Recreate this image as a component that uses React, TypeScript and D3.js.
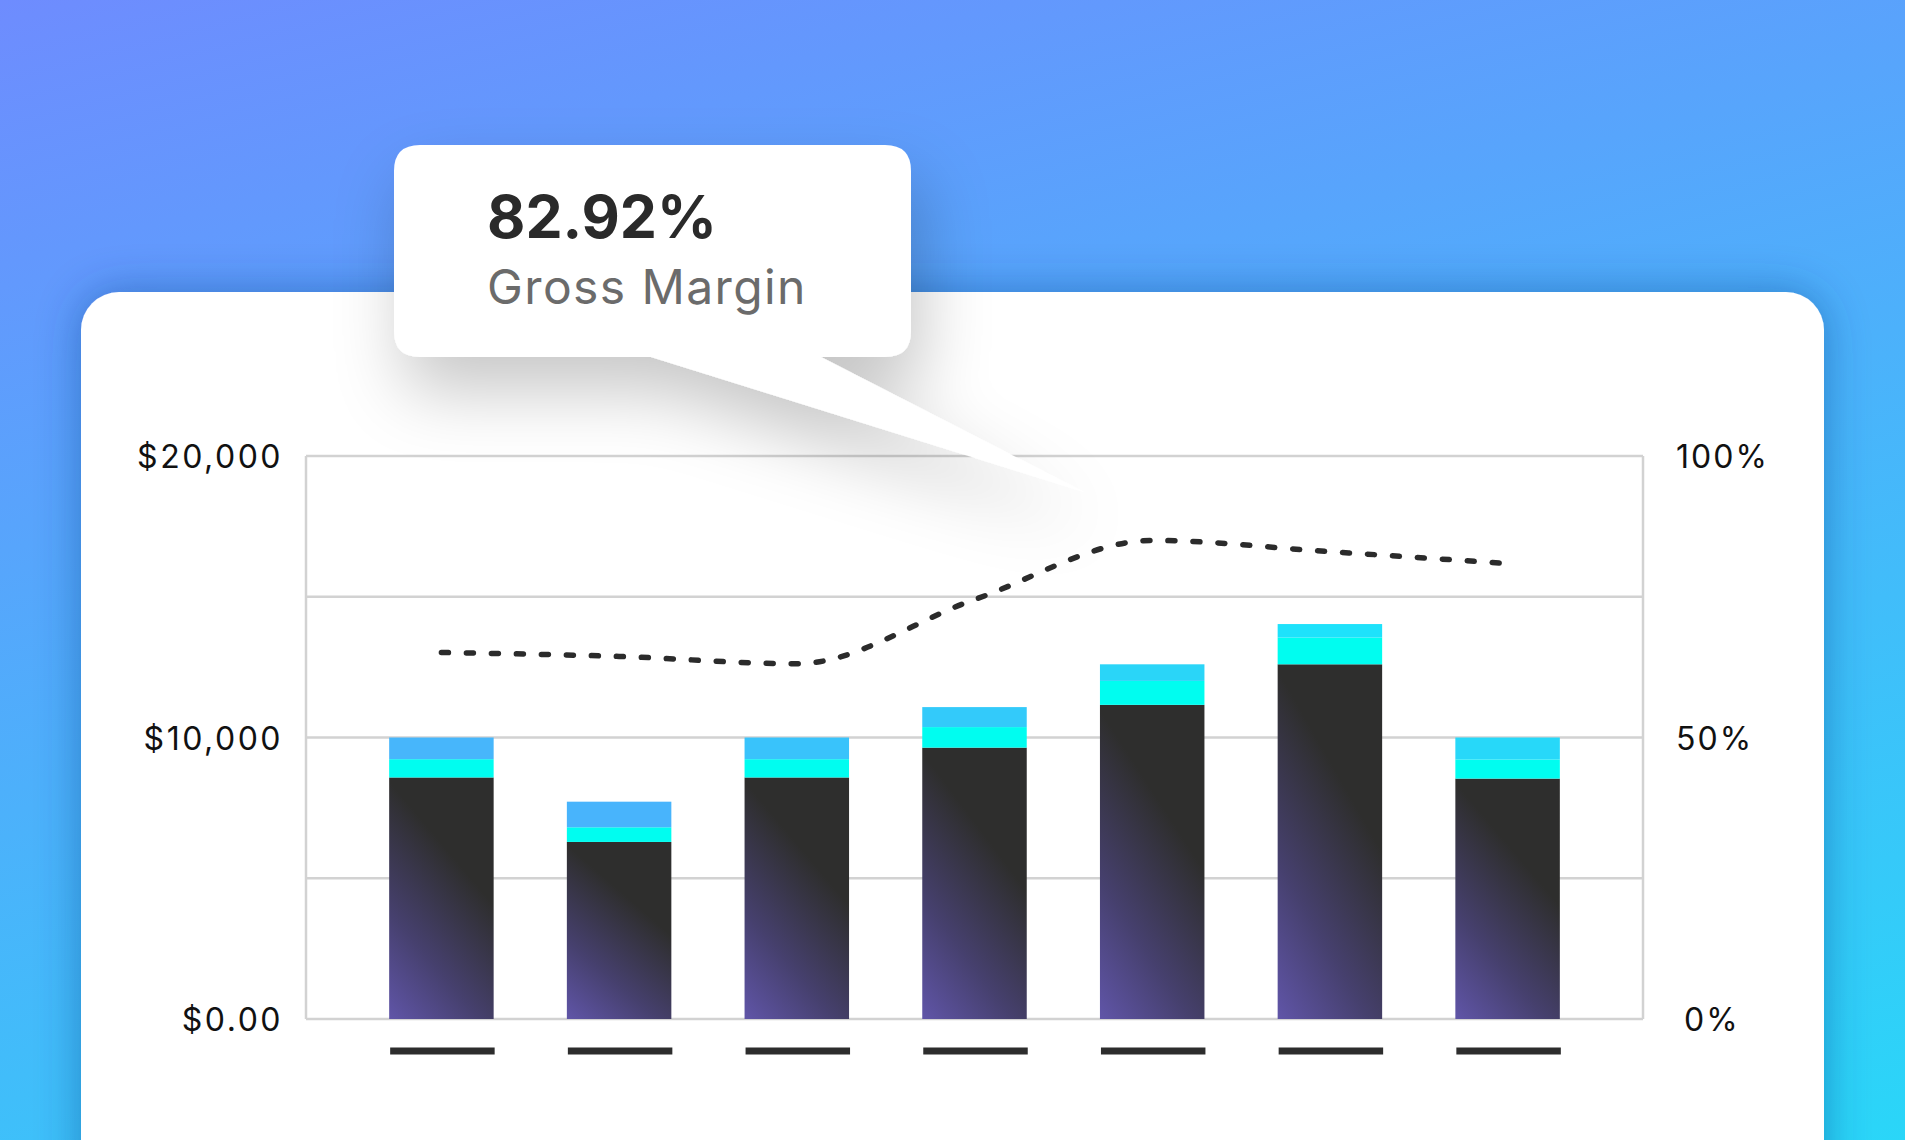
import * as d3 from "d3";

// monthly revenue split (thousands of dollars) and gross margin (%)
const categories = ["Jan", "Feb", "Mar", "Apr", "May", "Jun", "Jul"];
const costValues = [8.58, 6.29, 8.58, 9.64, 11.16, 12.6, 8.54];
const feeValues = [0.65, 0.52, 0.65, 0.73, 0.85, 0.95, 0.68];
const otherValues = [0.77, 0.91, 0.77, 0.71, 0.59, 0.48, 0.78];
const marginValues = [65.1, 64.4, 63.1, 74.5, 85.0, 83.0, 80.9];
const leftTicks = [0, 10000, 20000];
const leftTickLabels = ["$0.00", "$10,000", "$20,000"];
const rightTicks = [0, 50, 100];
const rightTickLabels = ["0%", "50%", "100%"];
const gridTicks = [0, 5000, 10000, 15000, 20000];
const tooltipValue = "82.92%";
const tooltipLabel = "Gross Margin";

const topColors = ["#47b6fb", "#48b4fc", "#39c3fb", "#33cafa", "#2ad5f8", "#1ee2fb", "#27d8f9"];

export default function App() {
  const width = 1905;
  const height = 1140;
  const plot = { left: 306, right: 1643, top: 456, bottom: 1019 };

  const x = d3
    .scaleBand()
    .domain(categories)
    .range([plot.left, plot.right])
    .paddingInner(0.412)
    .paddingOuter(0.468);
  const y = d3.scaleLinear().domain([0, 20000]).range([plot.bottom, plot.top]);
  const yPct = d3.scaleLinear().domain([0, 100]).range([plot.bottom, plot.top]);

  const stacked = categories.map((name, i) => {
    const cost = costValues[i] * 1000;
    const fee = feeValues[i] * 1000;
    const other = otherValues[i] * 1000;
    return { name, segs: [[0, cost], [cost, cost + fee], [cost + fee, cost + fee + other]] };
  });

  const line = d3
    .line<number>()
    .x((_, i) => (x(categories[i]) ?? 0) + x.bandwidth() / 2)
    .y((d) => yPct(d))
    .curve(d3.curveMonotoneX);

  const tipBox = { x: 394, y: 145, w: 517, h: 212, r: 26 };
  const tipPath = `M${tipBox.x + tipBox.r},${tipBox.y} H${tipBox.x + tipBox.w - tipBox.r} Q${tipBox.x + tipBox.w},${tipBox.y} ${tipBox.x + tipBox.w},${tipBox.y + tipBox.r} V${tipBox.y + tipBox.h - tipBox.r} Q${tipBox.x + tipBox.w},${tipBox.y + tipBox.h} ${tipBox.x + tipBox.w - tipBox.r},${tipBox.y + tipBox.h} H821 L1084,492 L651,${tipBox.y + tipBox.h} H${tipBox.x + tipBox.r} Q${tipBox.x},${tipBox.y + tipBox.h} ${tipBox.x},${tipBox.y + tipBox.h - tipBox.r} V${tipBox.y + tipBox.r} Q${tipBox.x},${tipBox.y} ${tipBox.x + tipBox.r},${tipBox.y} Z`;

  const font = "Inter, 'Noto Sans', sans-serif";

  return (
    <svg
      width={width}
      height={height}
      viewBox={`0 0 ${width} ${height}`}
      style={{ position: "absolute", left: 0, top: 0, display: "block" }}
    >
      <defs>
        <linearGradient id="bg" gradientUnits="userSpaceOnUse" x1={0} y1={0} x2={392} y2={1529}>
          <stop offset="0" stopColor="#6e8cfe" />
          <stop offset="1" stopColor="#2ad6f8" />
        </linearGradient>
        <linearGradient id="darkBar" x1={0} y1={1} x2={0.4} y2={0.22}>
          <stop offset="0" stopColor="#6055a8" />
          <stop offset="0.45" stopColor="#46406e" />
          <stop offset="1" stopColor="#2e2e2d" />
        </linearGradient>
        <filter id="cardShadow" x="-10%" y="-20%" width="120%" height="140%">
          <feDropShadow dx={0} dy={0} stdDeviation={22} floodColor="#1b3f8a" floodOpacity={0.45} />
        </filter>
        <filter id="tipShadow" x="-40%" y="-40%" width="180%" height="200%">
          <feDropShadow dx={10} dy={34} stdDeviation={34} floodColor="#000" floodOpacity={0.22} />
        </filter>
      </defs>

      <rect x={0} y={0} width={width} height={height} fill="url(#bg)" />
      <rect x={81} y={292} width={1743} height={920} rx={38} fill="#fff" filter="url(#cardShadow)" />

      {gridTicks.map((t) => (
        <line key={t} x1={plot.left} x2={plot.right} y1={y(t)} y2={y(t)} stroke="#d2d2d2" strokeWidth={2.5} />
      ))}
      <line x1={plot.left} x2={plot.left} y1={plot.top} y2={plot.bottom} stroke="#d2d2d2" strokeWidth={2.5} />
      <line x1={plot.right} x2={plot.right} y1={plot.top} y2={plot.bottom} stroke="#d2d2d2" strokeWidth={2.5} />

      {leftTicks.map((t, i) => (
        <text
          key={t}
          x={283}
          y={y(t) + 12}
          textAnchor="end"
          fontFamily={font}
          fontSize={32}
          letterSpacing={2.5}
          fill="#111"
        >
          {leftTickLabels[i]}
        </text>
      ))}
      {rightTicks.map((t, i) => (
        <text
          key={t}
          x={t === 0 ? 1684 : 1676}
          y={yPct(t) + 12}
          fontFamily={font}
          fontSize={32}
          letterSpacing={2}
          fill="#111"
        >
          {rightTickLabels[i]}
        </text>
      ))}

      {stacked.map((d, i) => {
        const bx = x(d.name) ?? 0;
        const fills = ["url(#darkBar)", "#00fdf0", topColors[i]];
        return (
          <g key={d.name}>
            {d.segs.map(([a, b], j) => (
              <rect key={j} x={bx} y={y(b)} width={x.bandwidth()} height={y(a) - y(b)} fill={fills[j]} />
            ))}
            <rect x={bx + 1} y={1047.5} width={x.bandwidth()} height={7} fill="#2d2d2d" />
          </g>
        );
      })}

      <path
        d={line(marginValues) ?? ""}
        fill="none"
        stroke="#2b2b2b"
        strokeWidth={5.5}
        strokeLinecap="round"
        strokeDasharray="7 18"
      />

      <path d={tipPath} fill="#fff" filter="url(#tipShadow)" />
      <text x={487} y={238} fontFamily={font} fontSize={59} fontWeight={700} fill="#2a2a2a">
        {tooltipValue}
      </text>
      <text x={487} y={304} fontFamily={font} fontSize={48} fill="#6b6b6b" letterSpacing={1.4}>
        {tooltipLabel}
      </text>
    </svg>
  );
}
